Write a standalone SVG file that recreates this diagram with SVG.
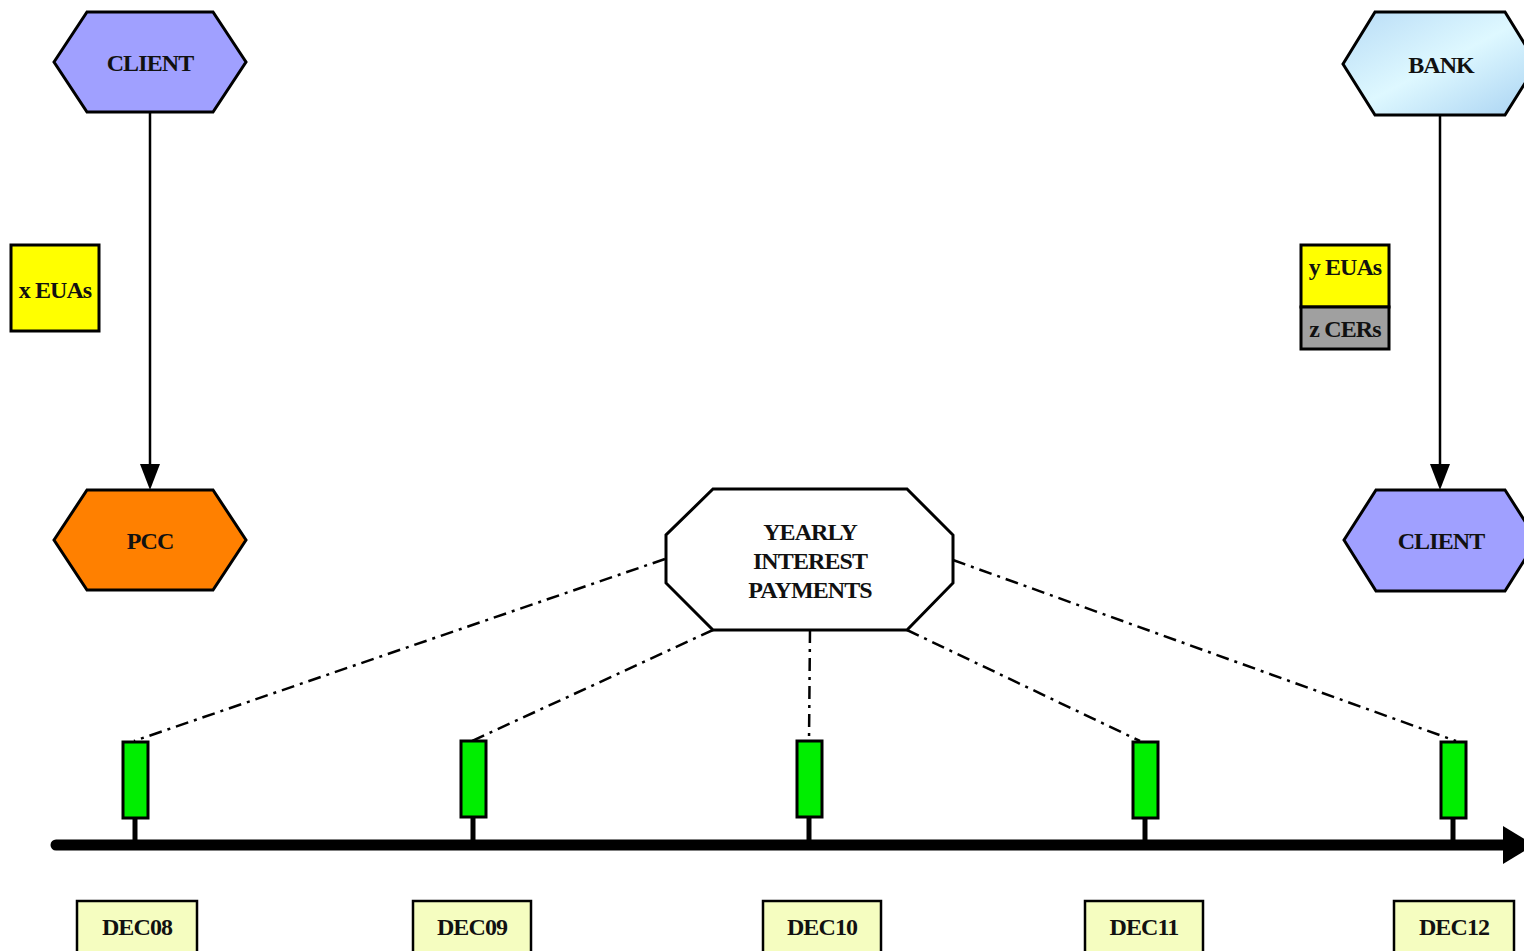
<svg xmlns="http://www.w3.org/2000/svg" width="1524" height="951" viewBox="0 0 1524 951">
<style>
text{font-family:"Liberation Serif","Times New Roman",serif;font-weight:bold;font-size:24px;letter-spacing:-0.9px;fill:#111;text-anchor:middle;dominant-baseline:central}
.node{stroke:#000;stroke-width:3}
.dash{stroke:#000;stroke-width:2.5;fill:none;stroke-dasharray:13 6 3 6}
.green{fill:#00ee00;stroke:#000;stroke-width:3}
.stem{stroke:#000;stroke-width:5}
.dec{fill:#f5fdc0;stroke:#000;stroke-width:2.5}
</style>
<defs>
<linearGradient id="bankg" x1="0" y1="0" x2="1" y2="1">
<stop offset="0" stop-color="#b8dcf6"/>
<stop offset="0.5" stop-color="#def8ff"/>
<stop offset="1" stop-color="#a8d2f2"/>
</linearGradient>
</defs>
<rect width="1524" height="951" fill="#fff"/>
<g id="connectors">
<line x1="150" y1="112" x2="150" y2="470" stroke="#000" stroke-width="2.5"/>
<polygon points="140,464 160,464 150,490" fill="#000"/>
<line x1="1440" y1="115" x2="1440" y2="470" stroke="#000" stroke-width="2.5"/>
<polygon points="1430,464 1450,464 1440,490" fill="#000"/>
<line class="dash" x1="665" y1="559" x2="134" y2="741"/>
<line class="dash" x1="713" y1="630" x2="472" y2="741"/>
<line class="dash" x1="810" y1="630" x2="809" y2="741"/>
<line class="dash" x1="907" y1="630" x2="1140" y2="741"/>
<line class="dash" x1="953" y1="560" x2="1456" y2="741"/>
<line x1="56" y1="845" x2="1505" y2="845" stroke="#000" stroke-width="11" stroke-linecap="round"/>
<polygon points="1503,826 1534,845 1503,864" fill="#000"/>
</g>
<g id="client-top"><polygon class="node" points="54,62 87,12 213,12 246,62 213,112 87,112" fill="#a0a0ff"/><text x="150" y="63">CLIENT</text></g>
<g id="bank"><polygon class="node" points="1343,64 1375,12 1505,12 1537,64 1505,115 1375,115" fill="url(#bankg)"/><text x="1441" y="65">BANK</text></g>
<g id="pcc"><polygon class="node" points="54,540 87,490 213,490 246,540 213,590 87,590" fill="#ff8000"/><text x="150" y="541">PCC</text></g>
<g id="client-bottom"><polygon class="node" points="1344,540 1376,490 1505,490 1537,540 1505,591 1376,591" fill="#a0a0ff"/><text x="1441" y="541">CLIENT</text></g>
<g id="x-euas"><rect x="11" y="245" width="88" height="86" fill="#ffff00" stroke="#000" stroke-width="3"/><text x="55" y="290">x EUAs</text></g>
<g id="y-euas"><rect x="1301" y="245" width="88" height="62" fill="#ffff00" stroke="#000" stroke-width="3"/><text x="1345" y="267">y EUAs</text></g>
<g id="z-cers"><rect x="1301" y="307" width="88" height="42" fill="#a0a0a0" stroke="#000" stroke-width="3"/><text x="1345" y="329">z CERs</text></g>
<g id="yearly"><polygon class="node" points="713,489 907,489 953,535 953,583 907,630 713,630 666,583 666,535" fill="#fff"/>
<text x="810" y="532">YEARLY</text><text x="810" y="561">INTEREST</text><text x="810" y="590">PAYMENTS</text></g>
<g id="tick-dec08"><line class="stem" x1="135" y1="818" x2="135" y2="845"/><rect class="green" x="123" y="742" width="25" height="76"/></g>
<g id="tick-dec09"><line class="stem" x1="473" y1="818" x2="473" y2="845"/><rect class="green" x="461" y="741" width="25" height="76"/></g>
<g id="tick-dec10"><line class="stem" x1="809" y1="818" x2="809" y2="845"/><rect class="green" x="797" y="741" width="25" height="76"/></g>
<g id="tick-dec11"><line class="stem" x1="1145" y1="818" x2="1145" y2="845"/><rect class="green" x="1133" y="742" width="25" height="76"/></g>
<g id="tick-dec12"><line class="stem" x1="1453" y1="818" x2="1453" y2="845"/><rect class="green" x="1441" y="742" width="25" height="76"/></g>
<g id="dec08"><rect class="dec" x="77" y="901" width="120" height="56"/><text x="137" y="927">DEC08</text></g>
<g id="dec09"><rect class="dec" x="413" y="901" width="118" height="56"/><text x="472" y="927">DEC09</text></g>
<g id="dec10"><rect class="dec" x="763" y="901" width="118" height="56"/><text x="822" y="927">DEC10</text></g>
<g id="dec11"><rect class="dec" x="1085" y="901" width="118" height="56"/><text x="1144" y="927">DEC11</text></g>
<g id="dec12"><rect class="dec" x="1394" y="901" width="120" height="56"/><text x="1454" y="927">DEC12</text></g>
</svg>
